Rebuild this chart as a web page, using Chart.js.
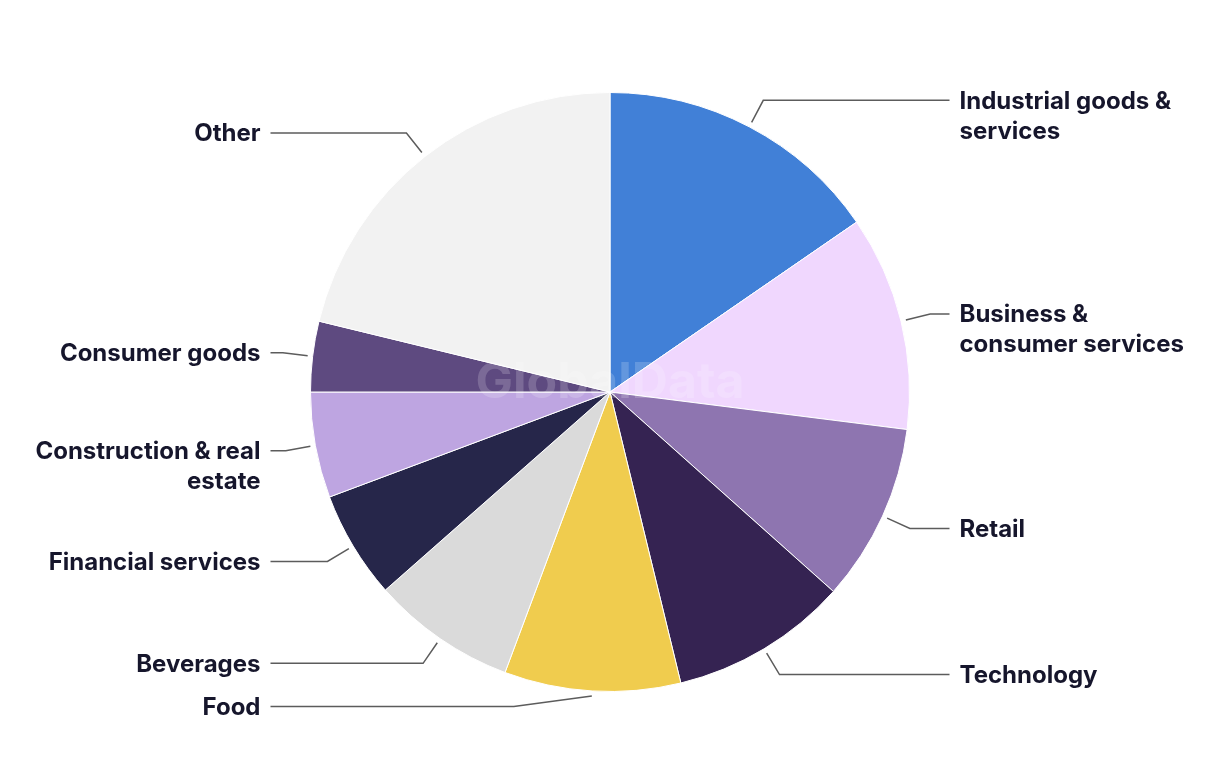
<!DOCTYPE html>
<html>
<head>
<meta charset="utf-8">
<script src="https://cdn.jsdelivr.net/npm/chart.js@4"></script>
<style>
  html, body { margin: 0; padding: 0; background: #ffffff; }
  #wrap { width: 1220px; height: 764px; position: relative; }
</style>
</head>
<body>
<div id="wrap"><canvas id="sectorChart"></canvas></div>
<script>
// Sector shares (%), clockwise from 12 o'clock
const sectors = [
    ['Industrial goods &', 'services'],
    ['Business &', 'consumer services'],
    ['Retail'],
    ['Technology'],
    ['Food'],
    ['Beverages'],
    ['Financial services'],
    ['Construction & real', 'estate'],
    ['Consumer goods'],
    ['Other']
];
const shares = [15.4, 11.6, 9.6, 9.6, 9.5, 7.8, 5.8, 5.7, 3.8, 21.2];
const sliceColors = [
    '#4180d7', '#f0d7fe', '#8e75b0', '#352352', '#f0cc4e',
    '#dadada', '#26264a', '#bea5e1', '#5e4a80', '#f2f2f2'
];

const FONT = '"Inter", "Roboto", "DejaVu Sans", sans-serif';

// Watermark + leader lines with labels
const leaderLabels = {
    id: 'leaderLabels',
    afterDatasetsDraw(chart) {
        const ctx = chart.ctx;
        const arcs = chart.getDatasetMeta(0).data;
        const labels = chart.data.labels;
        if (!arcs.length) return;
        const cx = arcs[0].x, cy = arcs[0].y, r = arcs[0].outerRadius;

        ctx.save();
        // watermark
        ctx.font = 'bold 50px ' + FONT;
        ctx.fillStyle = 'rgba(255,255,255,0.18)';
        ctx.textAlign = 'center';
        ctx.textBaseline = 'middle';
        ctx.fillText('GlobalData', cx, cy - 9);

        arcs.forEach((arc, i) => {
            const mid = (arc.startAngle + arc.endAngle) / 2;
            const dx = Math.cos(mid), dy = Math.sin(mid);
            const right = dx >= 0;
            const sx = cx + dx * (r + 5), sy = cy + dy * (r + 5);
            let ex = cx + dx * (r + 30), ey = cy + dy * (r + 30);
            const maxY = cy + r + 15;
            if (ey > maxY) {
                ey = maxY;
                ex = sx + (right ? 78 : -78);
            }
            const lineEnd = right ? cx + r + 40 : cx - r - 40;

            ctx.beginPath();
            ctx.moveTo(sx, sy);
            ctx.lineTo(ex, ey);
            ctx.lineTo(lineEnd, ey);
            ctx.strokeStyle = '#5c5c5c';
            ctx.lineWidth = 1.5;
            ctx.stroke();

            ctx.font = 'bold 24px ' + FONT;
            ctx.fillStyle = '#16162c';
            ctx.textAlign = right ? 'left' : 'right';
            ctx.textBaseline = 'middle';
            const tx = right ? lineEnd + 10 : lineEnd - 10;
            labels[i].forEach((line, k) => {
                ctx.fillText(line, tx, ey + 1 + k * 30);
            });
        });
        ctx.restore();
    }
};

const canvas = document.getElementById('sectorChart');
new Chart(canvas.getContext('2d'), {
    type: 'pie',
    data: {
        labels: sectors,
        datasets: [{
            data: shares,
            backgroundColor: sliceColors,
            borderColor: '#ffffff',
            borderWidth: 1
        }]
    },
    options: {
        responsive: true,
        maintainAspectRatio: false,
        animation: false,
        layout: {
            padding: { top: 91, bottom: 71, left: 310, right: 310 }
        },
        plugins: {
            legend: { display: false },
            tooltip: { enabled: false }
        }
    },
    plugins: [leaderLabels]
});
</script>
</body>
</html>
